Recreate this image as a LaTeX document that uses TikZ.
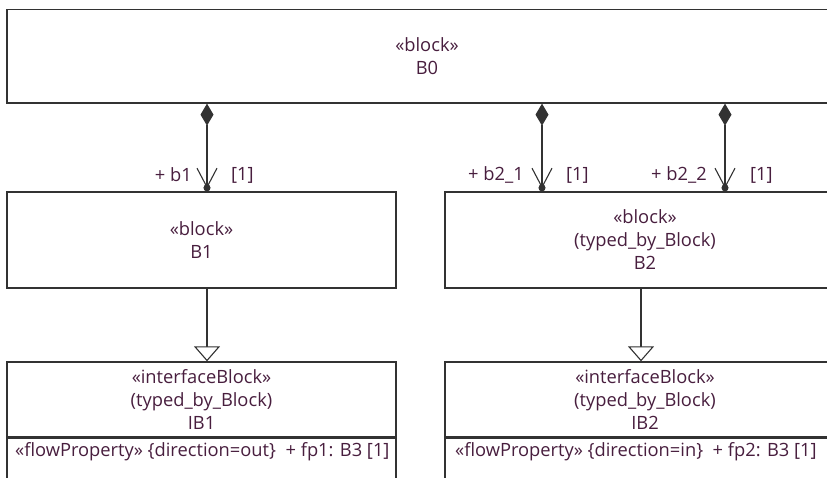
\documentclass[tikz,border=0pt]{standalone}
\usepackage{fontspec}
\setmainfont{Open Sans}
\usetikzlibrary{arrows.meta}
\definecolor{umltext}{RGB}{72,30,62}
\definecolor{umlline}{RGB}{50,50,50}
\begin{document}
\begin{tikzpicture}[x=1pt,y=-1pt,
  box/.style={draw=umlline, line width=1.3pt, rectangle, inner sep=0pt, align=center, text=umltext, font=\fontsize{18.3}{23}\selectfont},
  plainbox/.style={draw=umlline, line width=1.3pt, rectangle, inner sep=0pt},
  lbl/.style={text=umltext, font=\fontsize{18.3}{20}\selectfont, inner sep=0pt},
  comp/.style={draw=umlline, line width=1.1pt, {Diamond[length=22pt,width=13pt]}-{Straight Barb[length=19pt,width=20pt,sep=-4pt]Circle[length=7pt]}},
  gen/.style={draw=umlline, line width=1.1pt, -{Triangle[open,length=15pt,width=26pt,fill=white]}}
]
\useasboundingbox (0,0) rectangle (827,478);
\clip (0,0) rectangle (827,478);
% blocks
\node[box, minimum width=840pt, minimum height=93.5pt] (B0) at (427,56.25) {«block»\\B0};
\node[box, minimum width=389pt, minimum height=96pt] (B1) at (201.5,240) {«block»\\B1};
\node[box, minimum width=400pt, minimum height=96pt] (B2) at (645,240) {«block»\\(typed\_by\_Block)\\B2};
\node[box, minimum width=389pt, minimum height=75pt] (IB1) at (201.5,399.5) {«interfaceBlock»\\(typed\_by\_Block)\\IB1};
\node[box, minimum width=400pt, minimum height=75pt] (IB2) at (645,399.5) {«interfaceBlock»\\(typed\_by\_Block)\\IB2};
\node[plainbox, minimum width=389pt, minimum height=70pt, anchor=north] (IB1c) at (IB1.south) {};
\node[plainbox, minimum width=400pt, minimum height=70pt, anchor=north] (IB2c) at (IB2.south) {};
\node[lbl, anchor=west] (IB1fp) at (15,452) {«flowProperty» \{direction=out\}\ \ + fp1: B3 [1]};
\node[lbl, anchor=west] (IB2fp) at (455,452) {«flowProperty» \{direction=in\}\ \ + fp2: B3 [1]};
% connector positions
\coordinate (x1) at (207,0);
\coordinate (x21) at (542,0);
\coordinate (x22) at (725,0);
\coordinate (g2) at (641,0);
% compositions
\draw[comp] (B0.south -| x1) -- (B1.north -| x1);
\draw[comp] (B0.south -| x21) -- (B2.north -| x21);
\draw[comp] (B0.south -| x22) -- (B2.north -| x22);
% role labels
\node[lbl, anchor=east] (r1) at (192,175) {+ b1};
\node[lbl, anchor=west] (m1) at (231,175) {[1]};
\node[lbl, anchor=east] (r21) at (524,175) {+ b2\_1};
\node[lbl, anchor=west] (m21) at (566,175) {[1]};
\node[lbl, anchor=east] (r22) at (707,175) {+ b2\_2};
\node[lbl, anchor=west] (m22) at (750,175) {[1]};
% generalizations
\draw[gen] (B1.south -| x1) -- (IB1.north -| x1);
\draw[gen] (B2.south -| g2) -- (IB2.north -| g2);
\end{tikzpicture}
\end{document}
